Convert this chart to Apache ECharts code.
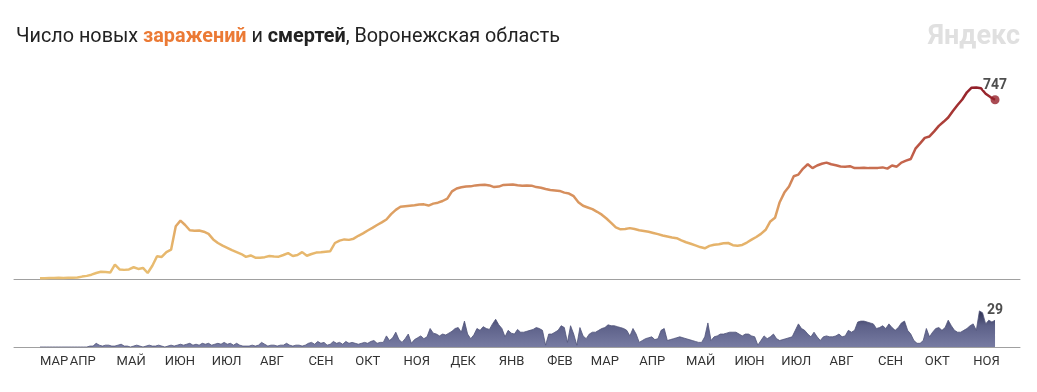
<!DOCTYPE html>
<html>
<head>
<meta charset="utf-8">
<script src="https://cdn.jsdelivr.net/npm/echarts@6/dist/echarts.min.js"></script>
<style>
html,body{margin:0;padding:0;background:#fff;}
#chart{width:1037px;height:392px;}
</style>
</head>
<body>
<div id="chart"></div>
<script>
// ---- Data ----
const startDate = [2020, 2, 13];          // first day of data (13 Mar 2020)
const casesStepDays = 3;                  // cases sampled every 3 days
const deathsStepDays = 2;                 // deaths sampled every 2 days

const casesValues = [
  3,3,4,4,5,4,5,5,6,10,13,18,25,30,29,27,60,40,38,40,
  49,42,46,25,55,95,92,112,122,220,243,225,203,201,202,197,188,165,150,139,
  130,120,112,104,92,98,89,89,91,96,94,93,100,108,96,100,112,97,104,110,
  111,114,116,150,160,165,163,168,180,190,202,213,225,236,248,270,288,301,303,305,
  307,310,311,306,314,318,325,335,365,377,382,385,386,390,392,393,390,383,385,392,
  393,394,391,389,390,389,383,380,375,371,369,367,360,356,345,320,305,298,291,280,
  268,252,234,215,207,208,212,208,203,200,197,192,187,181,177,173,170,161,153,147,
  140,133,128,138,143,145,149,150,141,139,142,152,164,175,188,205,240,255,320,360,
  385,428,435,460,478,462,473,480,485,478,474,469,468,470,462,463,464,462,462,463,
  465,460,473,468,485,493,500,543,565,588,594,615,638,655,673,700,725,748,778,797,
  798,795,772,758,747
];

const deathsValues = [
  0,0,0,0,0,0,0,0,0,0,0,0,0,0,0,0,1,1,4,2,
  1,2,2,1,1,2,3,1,1,0,1,2,1,0,1,2,1,1,2,1,
  0,1,2,1,2,3,2,3,4,2,3,2,4,3,4,2,3,4,3,5,
  3,4,2,4,2,1,1,1,2,1,2,5,3,1,2,2,1,2,2,4,
  2,1,2,2,1,2,4,5,3,6,4,5,2,3,6,4,5,3,6,4,
  5,4,3,4,5,4,6,7,4,5,5,12,7,10,16,8,5,9,14,4,
  8,10,12,9,11,20,15,14,12,14,13,15,17,20,21,16,28,14,9,13,
  20,18,22,20,19,25,30,24,20,11,18,15,14,19,16,16,17,18,19,21,
  20,18,2,14,14,16,18,23,21,5,23,14,2,21,12,9,14,16,16,18,
  20,21,24,23,23,22,21,20,18,12,20,14,5,7,9,10,11,8,9,18,
  20,7,8,9,10,11,10,9,8,7,6,5,5,11,26,7,11,12,14,14,
  15,16,16,16,14,12,14,14,12,11,2,7,12,9,11,14,9,7,8,9,
  10,11,18,25,20,18,14,11,16,11,7,11,12,11,11,12,14,11,12,18,
  16,18,27,28,28,27,26,25,20,21,23,20,25,21,18,21,26,28,18,14,
  7,4,4,7,20,11,16,20,21,18,21,29,23,18,16,16,18,20,23,25,
  18,39,37,25,29,27,29
];

const monthLabels = ['МАР','АПР','МАЙ','ИЮН','ИЮЛ','АВГ','СЕН','ОКТ','НОЯ','ДЕК','ЯНВ',
                     'ФЕВ','МАР','АПР','МАЙ','ИЮН','ИЮЛ','АВГ','СЕН','ОКТ','НОЯ'];
const monthLabelDates = [
  [2020,2,13],[2020,3,1],[2020,4,1],[2020,5,1],[2020,6,1],[2020,7,1],[2020,8,1],[2020,9,1],
  [2020,10,1],[2020,11,1],[2021,0,1],[2021,1,1],[2021,2,1],[2021,3,1],[2021,4,1],[2021,5,1],
  [2021,6,1],[2021,7,1],[2021,8,1],[2021,9,1],[2021,10,1]
];

const titleParts = ['Число новых ', 'заражений', ' и ', 'смертей', ', Воронежская область'];
const brandText = 'Яндекс';

// ---- Build (x = days since start date) ----
const DAY = 86400000;
const t0 = Date.UTC(startDate[0], startDate[1], startDate[2]);
const casesData = casesValues.map((v, i) => [i * casesStepDays, v]);
const deathsData = deathsValues.map((v, i) => [i * deathsStepDays, v]);
const lastCase = casesData[casesData.length - 1];
const lastDeath = deathsData[deathsData.length - 1];

const labelDays = monthLabelDates.map(d => Math.round((Date.UTC(d[0], d[1], d[2]) - t0) / DAY));
const labelMap = {};
labelDays.forEach((t, i) => { labelMap[t] = monthLabels[i]; });

const axisMin = -16.66;
const axisMax = 628;
const FONT = 'Roboto, "Noto Sans", sans-serif';

function makeX(gridIndex, showLabels) {
  return {
    gridIndex: gridIndex, type: 'value', min: axisMin, max: axisMax,
    axisLine: { show: true, onZero: false, lineStyle: { color: '#a0a0a0', width: 1 } },
    axisTick: { show: false }, splitLine: { show: false },
    axisLabel: showLabels ? {
      show: true, customValues: labelDays, align: 'left', margin: 8,
      fontFamily: FONT, fontSize: 13, color: '#333',
      formatter: (val) => labelMap[Math.round(val)] || ''
    } : { show: false }
  };
}

const chart = echarts.init(document.getElementById('chart'), null, { renderer: 'canvas' });
chart.setOption({
  animation: false,
  backgroundColor: '#fff',
  title: [{
    left: 11, top: 22,
    text: '{n|' + titleParts[0] + '}{o|' + titleParts[1] + '}{n|' + titleParts[2] + '}{b|' + titleParts[3] + '}{n|' + titleParts[4] + '}',
    textStyle: {
      fontFamily: FONT, fontSize: 19.8,
      rich: {
        n: { fontFamily: FONT, fontSize: 19.8, color: '#222', fontWeight: 'normal' },
        o: { fontFamily: FONT, fontSize: 19.8, color: '#eb7a35', fontWeight: 'bold' },
        b: { fontFamily: FONT, fontSize: 19.8, color: '#222', fontWeight: 'bold' }
      }
    }
  }, {
    right: 12, top: 19, text: brandText,
    textStyle: { fontFamily: FONT, fontSize: 27, fontWeight: 'bold', color: '#e0e0e0' }
  }],
  grid: [
    { left: 14, right: 17, top: 87, bottom: 113 },
    { left: 14, right: 17, top: 310, bottom: 45 }
  ],
  xAxis: [ makeX(0, false), makeX(1, true) ],
  yAxis: [
    { gridIndex: 0, type: 'value', min: 0, max: 800, show: false, splitLine: { show: false } },
    { gridIndex: 1, type: 'value', min: 0, max: 40, show: false, splitLine: { show: false } }
  ],
  visualMap: [{
    type: 'continuous', show: false, seriesIndex: 0, dimension: 1, min: 0, max: 800,
    inRange: { color: ['#e9bf73','#e7b86d','#e3ad68','#dc9c61','#d2865a','#c3614b','#b34a3e','#a53433','#93202a'] }
  }],
  series: [
    {
      type: 'line', xAxisIndex: 0, yAxisIndex: 0, data: casesData,
      showSymbol: false, lineStyle: { width: 2.5 }, z: 3
    },
    {
      type: 'scatter', xAxisIndex: 0, yAxisIndex: 0, data: [lastCase],
      symbolSize: 9, itemStyle: { color: '#951f29' }, z: 4,
      label: { show: true, position: 'top', distance: 3, formatter: () => String(lastCase[1]),
        fontFamily: FONT, fontSize: 14, fontWeight: 'bold', color: '#222',
        textBorderColor: '#fff', textBorderWidth: 2 }
    },
    {
      type: 'line', xAxisIndex: 1, yAxisIndex: 1, data: deathsData,
      showSymbol: false,
      lineStyle: { width: 0.8, color: '#50547a' },
      areaStyle: {
        opacity: 1,
        color: { type: 'linear', x: 0, y: 0, x2: 0, y2: 1,
          colorStops: [{ offset: 0, color: '#2e3050' }, { offset: 0.4, color: '#5c6088' }, { offset: 1, color: '#777ba2' }] }
      }
    },
    {
      type: 'scatter', xAxisIndex: 1, yAxisIndex: 1, data: [lastDeath],
      symbolSize: 1, itemStyle: { color: 'rgba(0,0,0,0)' }, z: 4,
      label: { show: true, position: 'top', distance: 2, formatter: () => String(lastDeath[1]),
        fontFamily: FONT, fontSize: 14, fontWeight: 'bold', color: '#222',
        textBorderColor: '#fff', textBorderWidth: 2 }
    }
  ]
});
</script>
</body>
</html>
